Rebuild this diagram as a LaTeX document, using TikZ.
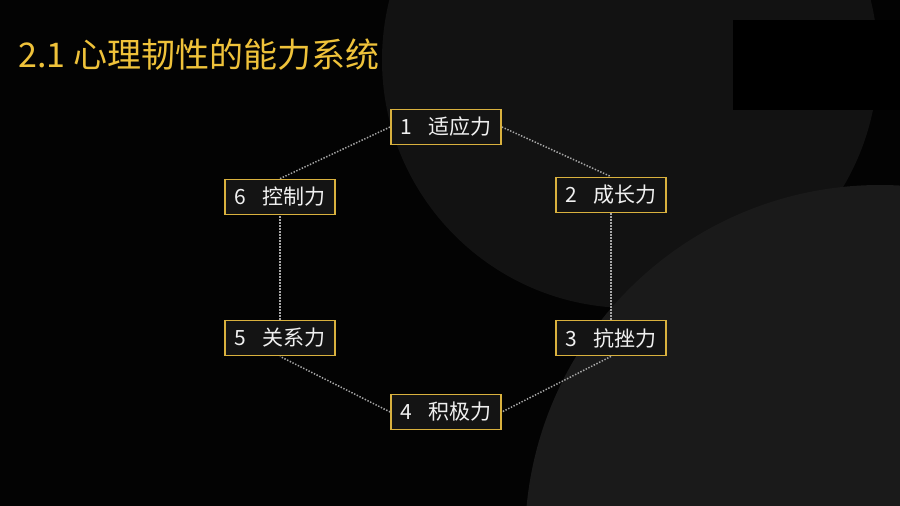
\documentclass[tikz,border=0pt]{standalone}
\usepackage{fontspec}
\setmainfont{Noto Sans CJK SC}
\definecolor{fundo}{HTML}{030303}
\definecolor{circuloA}{HTML}{121212}
\definecolor{circuloB}{HTML}{1A1A1A}
\definecolor{ouro}{HTML}{EFC23A}
\definecolor{borda}{HTML}{D9B13E}
\definecolor{pontos}{HTML}{A6A6A6}
\tikzset{
  caixa/.style={draw=borda, line width=1.8pt, fill=black!92, text=white!94!black,
    minimum width=110pt, minimum height=35pt, inner sep=0pt,
    font=\fontsize{21}{24}\selectfont},
  ligacao/.style={draw=pontos, line width=1.5pt, dash pattern=on 1.4pt off 1.6pt},
  titulo/.style={text=ouro, inner sep=0pt, anchor=west,
    font=\fontsize{34}{40}\selectfont}
}
\begin{document}
\begin{tikzpicture}[x=1pt,y=-1pt]
\useasboundingbox (0,0) rectangle (900,506);

% Fundo
\fill[fundo] (0,0) rectangle (900,506);
\fill[circuloA] (630,60) circle (248pt);
\fill[black] (733,20) rectangle (900,110);
\fill[circuloB] (880,540) circle (355pt);

% Titulo
\node[titulo] (tit) at (18,55) {2.1 心理韧性的能力系统};

% Hexagono
\node[caixa] (n1) at (446,127) {1\hspace{0.75em}适应力};
\node[caixa] (n2) at (611,195) {2\hspace{0.75em}成长力};
\node[caixa] (n3) at (611,338) {3\hspace{0.75em}抗挫力};
\node[caixa] (n4) at (446,412) {4\hspace{0.75em}积极力};
\node[caixa] (n5) at (280,338) {5\hspace{0.75em}关系力};
\node[caixa] (n6) at (280,197) {6\hspace{0.75em}控制力};

\draw[ligacao] (n1.east) -- (n2.north);
\draw[ligacao] (n2.south) -- (n3.north);
\draw[ligacao] (n3.south) -- (n4.east);
\draw[ligacao] (n4.west) -- (n5.south);
\draw[ligacao] (n5.north) -- (n6.south);
\draw[ligacao] (n6.north) -- (n1.west);
\end{tikzpicture}
\end{document}
